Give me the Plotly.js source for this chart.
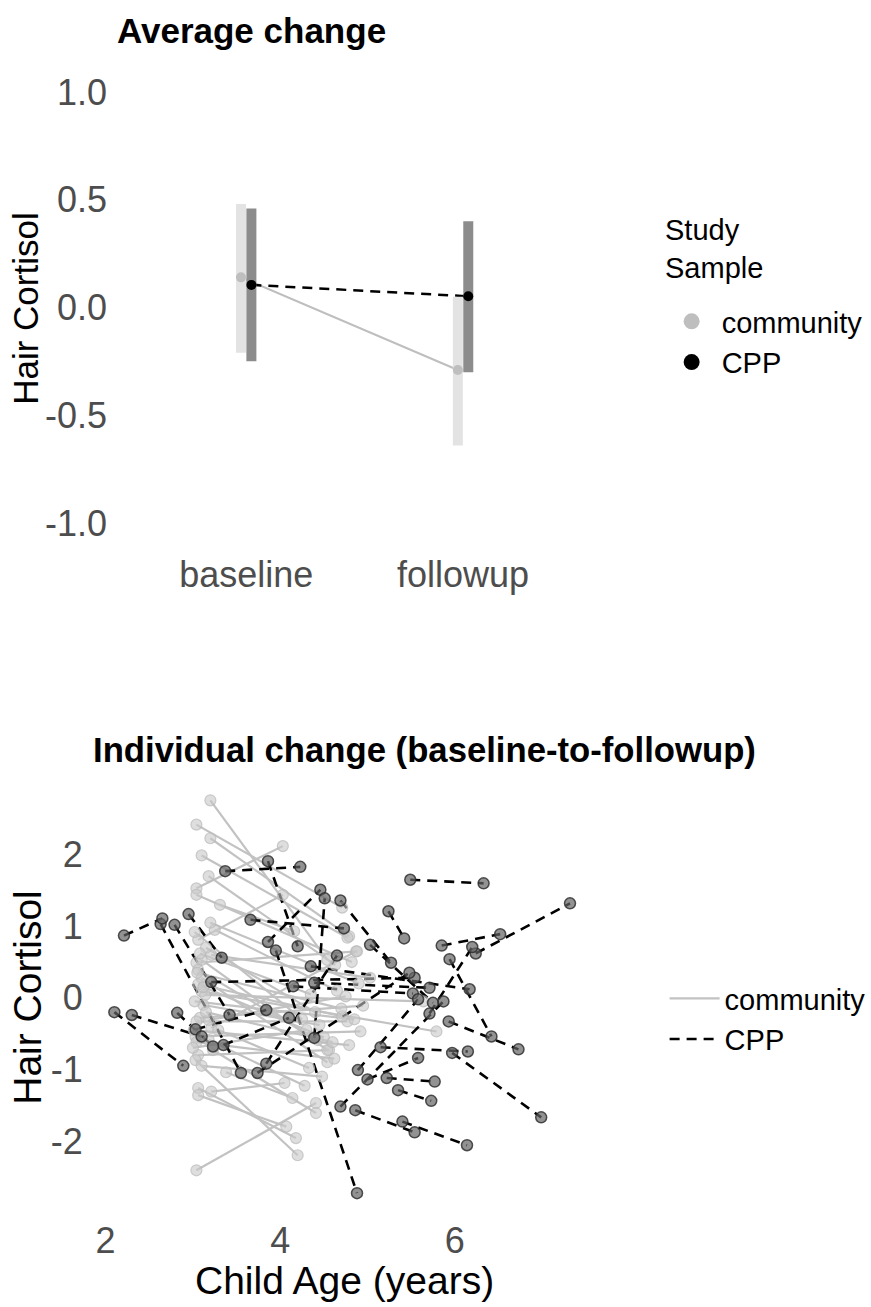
<!DOCTYPE html>
<html><head><meta charset="utf-8">
<script src="https://cdn.plot.ly/plotly-3.0.1.min.js"></script>
<style>html,body{margin:0;padding:0;background:#fff}#chart{width:871px;height:1307px}</style>
</head><body><div id="chart"></div>
<script>
// ---------- Top panel: average change ----------
const timepoints = ['baseline', 'followup'];
const communityMean = [0.14, -0.29];
const communityLower = [-0.21, -0.64];
const communityUpper = [0.48, 0.05];
const cppMean = [0.105, 0.052];
const cppLower = [-0.25, -0.30];
const cppUpper = [0.46, 0.40];
const topTickVals = [-1, -0.5, 0, 0.5, 1];
const topTickText = ['-1.0', '-0.5', '0.0', '0.5', '1.0'];

// ---------- Bottom panel: individual change ----------
const commAgeBase = [3.20,3.04,3.20,3.04,3.10,3.18,3.04,3.31,3.21,3.06,3.21,3.04,3.10,3.14,3.08,3.18,3.04,3.03,3.01,3.06,3.06,3.10,3.10,3.04,3.06,3.06,3.21,3.38,3.03,3.23,3.18,3.29,3.06,3.12,3.04,3.15,3.05,3.12,3.02,3.15,3.08,3.25,3.00,3.10,3.20,3.02];
const commAgeFollow = [4.54,4.71,4.79,4.03,4.77,4.63,4.82,4.16,4.87,4.03,5.03,4.88,5.79,5.64,4.95,4.75,4.77,4.92,4.79,4.56,4.43,4.54,4.54,4.41,4.18,4.07,4.05,4.14,4.20,4.41,4.28,4.33,4.71,4.45,4.62,4.40,4.70,4.50,4.85,4.60,4.35,4.65,4.30,4.48,4.90,4.25];
const commValBase = [2.76,2.42,2.23,1.53,1.99,1.70,1.44,1.30,-0.42,0.81,0.60,0.49,0.09,0.04,-0.28,-0.31,-0.33,-0.54,-0.45,-0.80,0.39,0.28,0.53,-2.41,-1.26,-1.36,-1.31,-1.04,-0.87,-0.73,-0.59,-0.45,0.19,-0.10,-0.62,0.70,0.35,0.15,-0.05,-0.20,0.62,0.95,-0.70,-0.95,1.05,0.92];
const commValFollow = [0.53,1.26,0.86,2.12,0.84,0.46,0.50,0.93,0.65,1.44,0.28,0.65,-0.47,-0.05,-0.11,0.02,-0.33,-0.47,-0.66,-0.73,-0.59,-0.90,-0.73,-1.47,-1.96,-1.80,-1.19,-1.40,-2.20,-1.61,-1.23,-0.98,-0.26,-0.38,-0.85,-0.20,-0.15,-0.55,-0.30,-0.62,0.05,0.10,-0.45,-1.10,0.20,-0.30];

const cppAgeBase = [2.21,2.63,2.79,2.95,3.37,3.86,3.86,4.39,4.69,3.66,3.95,3.21,4.15,4.39,4.35,2.10,2.30,2.82,3.03,3.35,3.84,5.49,6.24,5.85,5.24,5.71,5.03,5.94,3.74,4.89,4.69,5.93,5.15,5.97,5.00,5.22,5.35,4.86,5.40];
const cppAgeFollow = [2.65,3.55,3.42,3.33,4.23,4.20,4.46,4.51,5.27,4.73,4.88,5.54,5.52,5.71,6.17,2.89,3.10,3.23,3.84,4.10,4.65,6.33,7.32,6.52,5.42,6.20,5.75,6.42,5.48,5.58,5.87,6.73,6.15,6.99,5.58,5.77,5.73,5.54,6.14];
const cppValBase = [0.87,1.03,1.02,1.17,1.77,1.91,0.78,-0.56,1.36,1.09,0.66,0.22,0.16,0.21,0.44,-0.20,-0.24,-0.21,-0.44,-0.66,-0.92,1.65,0.62,0.73,1.21,-0.22,0.74,0.54,-1.05,-1.01,-1.52,-0.33,-0.69,-0.77,-1.14,-1.12,-1.29,-1.57,-1.73];
const cppValFollow = [1.11,-1.05,-0.24,0.56,1.83,0.72,1.51,1.39,0.49,0.97,-2.73,0.28,0.06,0.14,0.12,-0.95,-0.54,-0.68,-0.17,-0.28,0.59,1.60,1.32,0.89,0.83,0.71,-0.07,-0.54,0.35,-0.02,-0.05,-0.72,-0.75,-1.67,-0.84,-1.17,-1.44,-1.88,-2.06];
const bottomXTicks = [2, 4, 6];
const bottomYTicks = [-2, -1, 0, 1, 2];
const bottomYText = ['-2', '-1', '0', '1', '2'];

const groups = ['community', 'CPP'];
const legendTitle = 'Study<br>Sample';

// ---------- helpers ----------
const W = 871, H = 1307;
const px = v => v / W;
const py = v => 1 - v / H;
const FONT = 'Liberation Sans, Arial, Helvetica, sans-serif';
const dodge = 0.024;

function segments(xb, xf, yb, yf) {
  const x = [], y = [];
  for (let i = 0; i < xb.length; i++) {
    x.push(xb[i], xf[i], null);
    y.push(yb[i], yf[i], null);
  }
  return {x, y};
}
function ends(xb, xf, yb, yf) {
  return {x: xb.concat(xf), y: yb.concat(yf)};
}
function barSegs(pos, lo, hi) {
  const x = [], y = [];
  for (let i = 0; i < pos.length; i++) { x.push(pos[i], pos[i], null); y.push(lo[i], hi[i], null); }
  return {x, y};
}

const tIdx = timepoints.map((t, i) => i + 1);
const commPos = tIdx.map(v => v - dodge);
const cppPos = tIdx.map(v => v + dodge);

const traces = [];
// top: lines
traces.push({x: commPos, y: communityMean, type: 'scatter', mode: 'lines', xaxis: 'x', yaxis: 'y',
  line: {color: '#bebebe', width: 2}, showlegend: false, hoverinfo: 'skip'});
traces.push({x: cppPos, y: cppMean, type: 'scatter', mode: 'lines', xaxis: 'x', yaxis: 'y',
  line: {color: '#000000', width: 2.5, dash: '10px,7px'}, showlegend: false, hoverinfo: 'skip'});
// top: interval bars
const cb = barSegs(commPos, communityLower, communityUpper);
traces.push({x: cb.x, y: cb.y, type: 'scatter', mode: 'lines', xaxis: 'x', yaxis: 'y',
  line: {color: '#e3e3e3', width: 10}, showlegend: false, hoverinfo: 'skip'});
const pb = barSegs(cppPos, cppLower, cppUpper);
traces.push({x: pb.x, y: pb.y, type: 'scatter', mode: 'lines', xaxis: 'x', yaxis: 'y',
  line: {color: '#8c8c8c', width: 10}, showlegend: false, hoverinfo: 'skip'});
// top: points
traces.push({x: commPos, y: communityMean, type: 'scatter', mode: 'markers', xaxis: 'x', yaxis: 'y',
  marker: {color: '#bebebe', size: 10}, showlegend: false});
traces.push({x: cppPos, y: cppMean, type: 'scatter', mode: 'markers', xaxis: 'x', yaxis: 'y',
  marker: {color: '#000000', size: 10}, showlegend: false});
// top legend entries
traces.push({x: [null], y: [null], type: 'scatter', mode: 'markers', xaxis: 'x', yaxis: 'y',
  name: groups[0], marker: {color: '#bebebe', size: 20}, legend: 'legend'});
traces.push({x: [null], y: [null], type: 'scatter', mode: 'markers', xaxis: 'x', yaxis: 'y',
  name: groups[1], marker: {color: '#000000', size: 20}, legend: 'legend'});

// bottom: lines
const cs = segments(commAgeBase, commAgeFollow, commValBase, commValFollow);
traces.push({x: cs.x, y: cs.y, type: 'scatter', mode: 'lines', xaxis: 'x2', yaxis: 'y2',
  line: {color: '#c2c2c2', width: 2.2}, name: groups[0], legend: 'legend2', connectgaps: false});
const ps = segments(cppAgeBase, cppAgeFollow, cppValBase, cppValFollow);
traces.push({x: ps.x, y: ps.y, type: 'scatter', mode: 'lines', xaxis: 'x2', yaxis: 'y2',
  line: {color: '#000000', width: 2.6, dash: '10px,7px'}, name: groups[1], legend: 'legend2', connectgaps: false});
// bottom: points
const ce = ends(commAgeBase, commAgeFollow, commValBase, commValFollow);
traces.push({x: ce.x, y: ce.y, type: 'scatter', mode: 'markers', xaxis: 'x2', yaxis: 'y2',
  marker: {color: 'rgba(200,200,200,0.6)', size: 11, line: {color: 'rgba(185,185,185,0.7)', width: 1.2}}, showlegend: false});
const pe = ends(cppAgeBase, cppAgeFollow, cppValBase, cppValFollow);
traces.push({x: pe.x, y: pe.y, type: 'scatter', mode: 'markers', xaxis: 'x2', yaxis: 'y2',
  marker: {color: 'rgba(100,100,100,0.7)', size: 11, line: {color: 'rgba(40,40,40,0.8)', width: 1.5}}, showlegend: false});

const tickFont = {family: FONT, size: 36, color: '#4d4d4d'};
const axisBase = {showgrid: false, zeroline: false, showline: false, ticks: '', fixedrange: true, tickfont: tickFont};

const layout = {
  width: W, height: H,
  margin: {l: 0, r: 0, t: 0, b: 0},
  paper_bgcolor: '#ffffff', plot_bgcolor: '#ffffff',
  font: {family: FONT, color: '#000'},
  xaxis: Object.assign({}, axisBase, {domain: [px(117), px(598)], range: [0.4, 2.6],
    tickmode: 'array', tickvals: tIdx, ticktext: timepoints, ticklabelstandoff: 5, anchor: 'y'}),
  yaxis: Object.assign({}, axisBase, {domain: [py(544.5), py(70.5)], range: [-1.1, 1.1],
    tickmode: 'array', tickvals: topTickVals, ticktext: topTickText, ticklabelstandoff: 8, anchor: 'x'}),
  xaxis2: Object.assign({}, axisBase, {domain: [px(92.4), px(597.5)], range: [1.84, 7.58],
    tickmode: 'array', tickvals: bottomXTicks, ticklabelstandoff: 3, anchor: 'y2'}),
  yaxis2: Object.assign({}, axisBase, {domain: [py(1212.5), py(781)], range: [-3.0, 3.03],
    tickmode: 'array', tickvals: bottomYTicks, ticktext: bottomYText, ticklabelstandoff: 8, anchor: 'x2'}),
  legend: {x: px(667), xanchor: 'left', y: py(296), yanchor: 'top', itemwidth: 50,
    bgcolor: 'rgba(0,0,0,0)', font: {family: FONT, size: 29, color: '#000'}},
  legend2: {x: px(670), xanchor: 'left', y: py(973), yanchor: 'top', itemwidth: 50,
    bgcolor: 'rgba(0,0,0,0)', font: {family: FONT, size: 29, color: '#000'}},
  annotations: [
    {text: '<b>Average change</b>', xref: 'paper', yref: 'paper', x: px(116), y: py(30), xanchor: 'left', yanchor: 'middle',
      showarrow: false, font: {family: FONT, size: 35, color: '#000'}},
    {text: '<b>Individual change (baseline-to-followup)</b>', xref: 'paper', yref: 'paper', x: px(92), y: py(750), xanchor: 'left', yanchor: 'middle',
      showarrow: false, font: {family: FONT, size: 34.7, color: '#000'}},
    {text: legendTitle, xref: 'paper', yref: 'paper', x: px(668), y: py(249), xanchor: 'left', yanchor: 'middle', align: 'left',
      showarrow: false, font: {family: FONT, size: 29, color: '#000'}},
    {text: 'Hair Cortisol', xref: 'paper', yref: 'paper', x: px(25), y: py(308), xanchor: 'center', yanchor: 'middle',
      textangle: -90, showarrow: false, font: {family: FONT, size: 35, color: '#000'}},
    {text: 'Hair Cortisol', xref: 'paper', yref: 'paper', x: px(27), y: py(997), xanchor: 'center', yanchor: 'middle',
      textangle: -90, showarrow: false, font: {family: FONT, size: 39, color: '#000'}},
    {text: 'Child Age (years)', xref: 'paper', yref: 'paper', x: px(347), y: py(1280), xanchor: 'center', yanchor: 'middle',
      showarrow: false, font: {family: FONT, size: 39, color: '#000'}}
  ]
};

Plotly.newPlot('chart', traces, layout, {staticPlot: true, displayModeBar: false});
</script></body></html>
